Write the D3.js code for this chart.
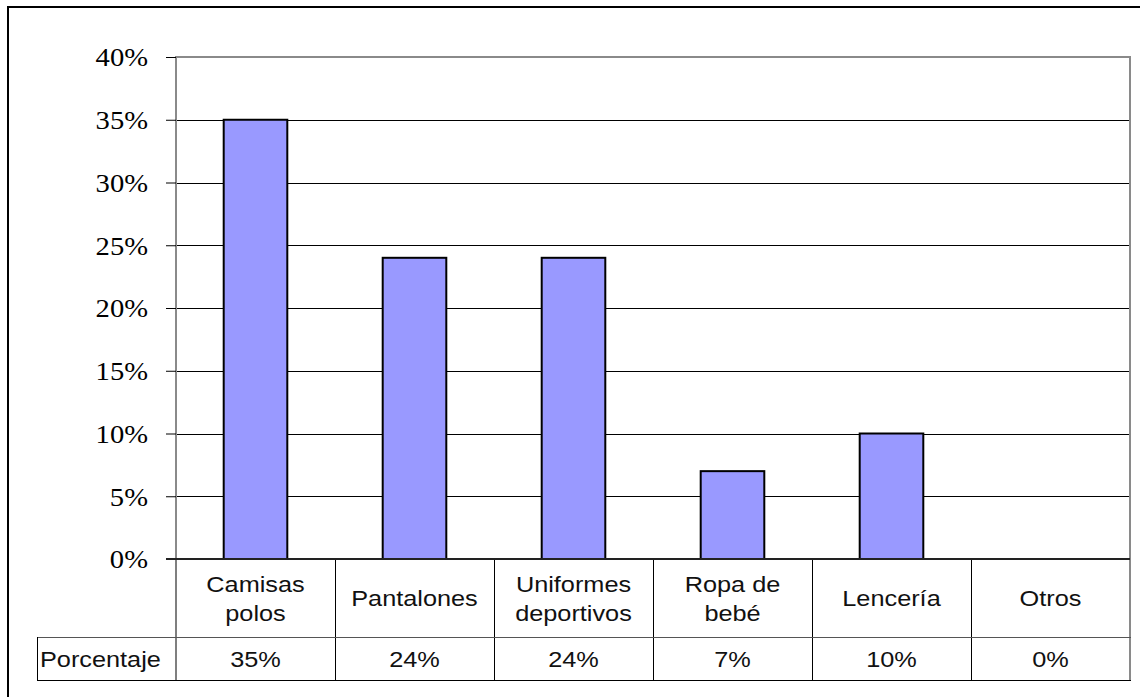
<!DOCTYPE html>
<html>
<head>
<meta charset="utf-8">
<script src="https://cdn.jsdelivr.net/npm/d3@7"></script>
<style>
  html, body { margin: 0; padding: 0; background: #fff; }
  svg { display: block; }
</style>
</head>
<body>
<svg id="chart" width="1140" height="697"></svg>
<script>
// Categories (two-line labels in the data table) and their shares
const categories = ["Camisas polos", "Pantalones", "Uniformes deportivos", "Ropa de bebé", "Lencería", "Otros"];
const categoryLines = [["Camisas", "polos"], ["Pantalones"], ["Uniformes", "deportivos"], ["Ropa de", "bebé"], ["Lencería"], ["Otros"]];
const values = [35, 24, 24, 7, 10, 0];
const valueLabels = ["35%", "24%", "24%", "7%", "10%", "0%"];
const seriesName = "Porcentaje";
const yTicks = [0, 5, 10, 15, 20, 25, 30, 35, 40];

const svg = d3.select("#chart");
const plot = { left: 176, right: 1130, top: 57, bottom: 559 };
const rowCat = { top: 559, bottom: 637 };
const rowVal = { top: 637, bottom: 680 };
const tableLeft = 37;
const stretch = 1.15;
const tableFontSize = 22;

// Outer chart border
svg.append("rect")
  .attr("x", 8).attr("y", 7)
  .attr("width", 1150).attr("height", 700)
  .attr("fill", "none").attr("stroke", "#000").attr("stroke-width", 2);

const x = d3.scaleBand().domain(categories).range([plot.left, plot.right]).paddingInner(0.6).paddingOuter(0.3);
const col = d3.scaleBand().domain(categories).range([plot.left, plot.right]);
const y = d3.scaleLinear().domain([0, 40]).range([plot.bottom, plot.top]);

// Horizontal gridlines
svg.append("g").selectAll("line")
  .data(yTicks.filter(t => t > 0 && t < 40))
  .join("line")
  .attr("x1", plot.left).attr("x2", plot.right)
  .attr("y1", d => Math.round(y(d)) + 0.5).attr("y2", d => Math.round(y(d)) + 0.5)
  .attr("stroke", "#000").attr("stroke-width", 1);

// Plot area frame (gray)
svg.append("path")
  .attr("d", `M${plot.left},${plot.bottom} V${plot.top} H${plot.right} V${plot.bottom}`)
  .attr("fill", "none").attr("stroke", "#8a8a8a").attr("stroke-width", 2);

// Y axis with ticks on the left
const yAxis = d3.axisLeft(y).tickValues(yTicks).tickSize(10).tickPadding(18).tickFormat(d => d + "%");
const gy = svg.append("g").attr("transform", `translate(${plot.left},0)`).call(yAxis);
gy.select(".domain").remove();
gy.selectAll(".tick line").attr("stroke", "#000").attr("stroke-width", 1);
gy.selectAll(".tick text")
  .attr("font-family", "'Liberation Serif', 'Times New Roman', serif")
  .attr("font-size", 26).attr("fill", "#000")
  .attr("dy", "0.34em")
  .each(function() {
    const t = d3.select(this);
    const xx = +t.attr("x");
    t.attr("transform", `translate(${xx},0) scale(1.1,1)`).attr("x", 0);
  });

// Bars
svg.append("g").selectAll("rect")
  .data(categories)
  .join("rect")
  .attr("x", d => x(d))
  .attr("y", (d, i) => y(values[i]))
  .attr("width", x.bandwidth())
  .attr("height", (d, i) => y(0) - y(values[i]))
  .attr("fill", "#9999ff")
  .attr("stroke", "#000").attr("stroke-width", 2)
  .attr("display", (d, i) => values[i] > 0 ? null : "none");

// Data table: category row and value row
const table = svg.append("g");
const font = "'Liberation Sans', Arial, sans-serif";

// vertical cell separators
table.selectAll("line.sep")
  .data(categories.slice(1))
  .join("line")
  .attr("x1", d => col(d) + 0.5).attr("x2", d => col(d) + 0.5)
  .attr("y1", rowCat.top).attr("y2", rowVal.bottom)
  .attr("stroke", "#000").attr("stroke-width", 1);

// left edge of the table below the axis
table.append("line")
  .attr("x1", plot.left).attr("x2", plot.left)
  .attr("y1", rowCat.top).attr("y2", rowVal.bottom)
  .attr("stroke", "#555").attr("stroke-width", 1.5);

// right edge
table.append("line")
  .attr("x1", plot.right).attr("x2", plot.right)
  .attr("y1", rowCat.top).attr("y2", rowVal.bottom)
  .attr("stroke", "#8a8a8a").attr("stroke-width", 2);

// row separator and bottom edge
table.append("line")
  .attr("x1", tableLeft).attr("x2", plot.right + 1)
  .attr("y1", rowVal.top + 0.5).attr("y2", rowVal.top + 0.5)
  .attr("stroke", "#555").attr("stroke-width", 1);
table.append("line")
  .attr("x1", tableLeft).attr("x2", plot.right + 1)
  .attr("y1", rowVal.bottom + 0.5).attr("y2", rowVal.bottom + 0.5)
  .attr("stroke", "#000").attr("stroke-width", 1);
// series label cell left edge
table.append("line")
  .attr("x1", tableLeft + 0.5).attr("x2", tableLeft + 0.5)
  .attr("y1", rowVal.top).attr("y2", rowVal.bottom + 1)
  .attr("stroke", "#000").attr("stroke-width", 1);

// Zero baseline with its tick
svg.append("line")
  .attr("x1", plot.left - 10).attr("x2", plot.right)
  .attr("y1", plot.bottom).attr("y2", plot.bottom)
  .attr("stroke", "#222").attr("stroke-width", 2);

function stretchedText(g, tx, ty, str) {
  g.append("text")
    .attr("transform", `translate(${tx},${ty}) scale(${stretch},1)`)
    .attr("text-anchor", "middle")
    .attr("font-family", font).attr("font-size", tableFontSize).attr("fill", "#111")
    .text(str);
}

const catMid = (rowCat.top + rowCat.bottom) / 2;
categories.forEach((c, i) => {
  const cx = col(c) + col.bandwidth() / 2;
  const lines = categoryLines[i];
  if (lines.length === 1) {
    stretchedText(table, cx, catMid + 8, lines[0]);
  } else {
    stretchedText(table, cx, catMid - 6, lines[0]);
    stretchedText(table, cx, catMid + 23, lines[1]);
  }
  stretchedText(table, cx, (rowVal.top + rowVal.bottom) / 2 + 8, valueLabels[i]);
});

table.append("text")
  .attr("transform", `translate(${tableLeft + 3},${(rowVal.top + rowVal.bottom) / 2 + 8}) scale(${stretch},1)`)
  .attr("font-family", font).attr("font-size", tableFontSize).attr("fill", "#111")
  .text(seriesName);
</script>
</body>
</html>
